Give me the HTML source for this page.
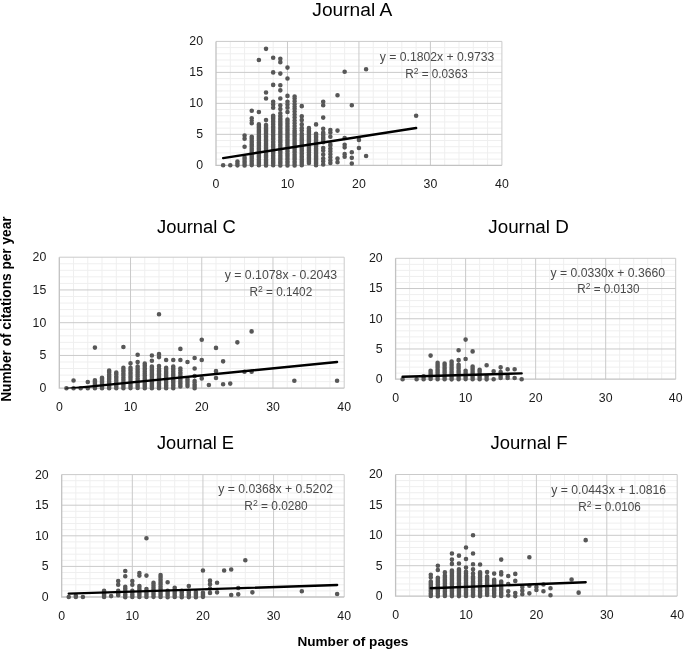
<!DOCTYPE html>
<html><head><meta charset="utf-8"><title>Journals</title>
<style>
html,body{margin:0;padding:0;background:#fff;}
body{width:685px;height:649px;overflow:hidden;font-family:"Liberation Sans",sans-serif;}
svg{display:block;will-change:transform;filter:grayscale(1);}
text{font-family:"Liberation Sans",sans-serif;}
.t{font-size:12.3px;fill:#1a1a1a;}
.h{font-size:18px;fill:#000;}
.e{font-size:12px;fill:#4a4a4a;}
.a{font-size:13.4px;font-weight:bold;fill:#000;}
</style></head><body>
<svg width="685" height="649" viewBox="0 0 685 649">
<rect width="685" height="649" fill="#fff"/>
<g><path d="M216 159.11H501.9M216 152.91H501.9M216 146.72H501.9M216 140.52H501.9M216 128.13H501.9M216 121.94H501.9M216 115.74H501.9M216 109.55H501.9M216 97.16H501.9M216 90.96H501.9M216 84.77H501.9M216 78.57H501.9M216 66.18H501.9M216 59.99H501.9M216 53.79H501.9M216 47.59H501.9M230.29 41.4V165.3M244.59 41.4V165.3M258.88 41.4V165.3M273.18 41.4V165.3M301.77 41.4V165.3M316.06 41.4V165.3M330.36 41.4V165.3M344.65 41.4V165.3M373.25 41.4V165.3M387.54 41.4V165.3M401.83 41.4V165.3M416.13 41.4V165.3M444.72 41.4V165.3M459.01 41.4V165.3M473.31 41.4V165.3M487.6 41.4V165.3" stroke="#efefef" stroke-width="1" fill="none"/><path d="M216 134.33H501.9M216 103.35H501.9M216 72.38H501.9M216 41.4H501.9M287.48 41.4V165.3M358.95 41.4V165.3M430.42 41.4V165.3M501.9 41.4V165.3" stroke="#cacaca" stroke-width="1" fill="none"/><path d="M216 41.4V165.3H501.9" stroke="#c2c2c2" stroke-width="1.3" fill="none"/><path d="M223.15 165.3h0M230.29 165.3h0M237.44 165.37h0M237.44 164.07h0M237.44 162.98h0M237.44 161.87h0M237.44 161.58h0M244.59 165.47h0M244.59 164.13h0M244.59 162.86h0M244.59 161.43h0M244.59 160.03h0M244.59 158.44h0M244.59 157.25h0M244.59 146.72h0M244.59 138.66h0M244.59 135.56h0M251.74 165.12h0M251.74 164.05h0M251.74 163.07h0M251.74 161.85h0M251.74 160.36h0M251.74 158.79h0M251.74 157.53h0M251.74 156.58h0M251.74 155.15h0M251.74 153.96h0M251.74 152.5h0M251.74 151.12h0M251.74 149.86h0M251.74 148.35h0M251.74 146.7h0M251.74 145.36h0M251.74 144.42h0M251.74 143.01h0M251.74 141.7h0M251.74 139.97h0M251.74 138.53h0M251.74 137.34h0M251.74 136.8h0M251.74 123.17h0M251.74 120.08h0M251.74 118.22h0M251.74 110.78h0M258.88 165.27h0M258.88 163.83h0M258.88 162.37h0M258.88 161.07h0M258.88 159.38h0M258.88 157.68h0M258.88 156.6h0M258.88 155.28h0M258.88 153.88h0M258.88 152.77h0M258.88 151.23h0M258.88 149.91h0M258.88 148.46h0M258.88 146.95h0M258.88 145.28h0M258.88 143.92h0M258.88 142.57h0M258.88 140.77h0M258.88 139.89h0M258.88 138.65h0M258.88 137.17h0M258.88 136.15h0M258.88 134.7h0M258.88 133.08h0M258.88 131.78h0M258.88 130.29h0M258.88 129.09h0M258.88 127.58h0M258.88 126.24h0M258.88 125.03h0M258.88 124.41h0M258.88 112.02h0M258.88 59.99h0M266.03 165.46h0M266.03 164.28h0M266.03 163.05h0M266.03 162.06h0M266.03 160.85h0M266.03 159.59h0M266.03 157.8h0M266.03 156.77h0M266.03 155.45h0M266.03 154.11h0M266.03 152.62h0M266.03 151.41h0M266.03 150.17h0M266.03 148.75h0M266.03 147.87h0M266.03 146.07h0M266.03 144.9h0M266.03 143.8h0M266.03 142.05h0M266.03 140.8h0M266.03 139.55h0M266.03 137.9h0M266.03 136.46h0M266.03 135.07h0M266.03 133.43h0M266.03 131.91h0M266.03 130.64h0M266.03 129.22h0M266.03 128.23h0M266.03 126.91h0M266.03 125.18h0M266.03 125.03h0M266.03 120.08h0M266.03 98.52h0M266.03 92.51h0M266.03 48.83h0M273.18 165.14h0M273.18 163.5h0M273.18 162.49h0M273.18 161.28h0M273.18 159.92h0M273.18 158.26h0M273.18 156.98h0M273.18 155.66h0M273.18 153.9h0M273.18 152.45h0M273.18 151.31h0M273.18 149.73h0M273.18 147.97h0M273.18 146.87h0M273.18 145.15h0M273.18 144.18h0M273.18 142.72h0M273.18 141.47h0M273.18 139.62h0M273.18 138.41h0M273.18 137.1h0M273.18 135.69h0M273.18 134.41h0M273.18 132.85h0M273.18 131.14h0M273.18 130.14h0M273.18 128.9h0M273.18 127.48h0M273.18 126.21h0M273.18 124.54h0M273.18 123.12h0M273.18 121.59h0M273.18 119.97h0M273.18 118.58h0M273.18 117.51h0M273.18 116.49h0M273.18 115.74h0M273.18 107.69h0M273.18 104.59h0M273.18 101.74h0M273.18 84.89h0M273.18 72.38h0M273.18 57.75h0M280.33 165.42h0M280.33 163.87h0M280.33 162.62h0M280.33 161.16h0M280.33 159.81h0M280.33 158.36h0M280.33 156.93h0M280.33 155.64h0M280.33 154h0M280.33 152.78h0M280.33 151.46h0M280.33 150.01h0M280.33 148.62h0M280.33 146.93h0M280.33 145.28h0M280.33 144.19h0M280.33 142.48h0M280.33 141.58h0M280.33 140.27h0M280.33 139.04h0M280.33 137.32h0M280.33 135.98h0M280.33 134.31h0M280.33 133.06h0M280.33 131.69h0M280.33 130.01h0M280.33 128.44h0M280.33 127.2h0M280.33 125.74h0M280.33 124.59h0M280.33 123.13h0M280.33 122.09h0M280.33 120.96h0M280.33 119.46h0M280.33 118.3h0M280.33 116.4h0M280.33 115.74h0M280.33 113.26h0M280.33 108.93h0M280.33 105.21h0M280.33 98.52h0M280.33 90.34h0M280.33 85.2h0M280.33 73.61h0M280.33 62.15h0M280.33 58.75h0M287.48 165.45h0M287.48 164.24h0M287.48 162.64h0M287.48 161.42h0M287.48 159.68h0M287.48 158.7h0M287.48 156.95h0M287.48 155.66h0M287.48 154.32h0M287.48 153.22h0M287.48 151.41h0M287.48 150.09h0M287.48 148.54h0M287.48 146.83h0M287.48 145.52h0M287.48 144.03h0M287.48 142.77h0M287.48 141.71h0M287.48 140.55h0M287.48 139.26h0M287.48 137.83h0M287.48 136.68h0M287.48 135.55h0M287.48 134.49h0M287.48 133.21h0M287.48 132.02h0M287.48 130.39h0M287.48 129.29h0M287.48 128.08h0M287.48 126.57h0M287.48 125.1h0M287.48 123.6h0M287.48 121.92h0M287.48 120.6h0M287.48 119.46h0M287.48 112.02h0M287.48 107.69h0M287.48 104.59h0M287.48 101.74h0M287.48 95.92h0M287.48 78.57h0M287.48 67.6h0M294.62 165.47h0M294.62 164.3h0M294.62 162.74h0M294.62 161.62h0M294.62 159.78h0M294.62 158.54h0M294.62 157.32h0M294.62 156.02h0M294.62 154.65h0M294.62 152.77h0M294.62 151.66h0M294.62 150.01h0M294.62 148.84h0M294.62 147.37h0M294.62 146.11h0M294.62 144.82h0M294.62 143.55h0M294.62 142.26h0M294.62 141.06h0M294.62 139.74h0M294.62 138.3h0M294.62 136.86h0M294.62 135.41h0M294.62 133.92h0M294.62 132.85h0M294.62 131.66h0M294.62 130.61h0M294.62 128.6h0M294.62 125.93h0M294.62 123.22h0M294.62 120.46h0M294.62 117.4h0M294.62 114.54h0M294.62 111.49h0M294.62 108.86h0M294.62 106.78h0M294.62 104.33h0M294.62 101.21h0M294.62 98.45h0M294.62 98.39h0M294.62 96.54h0M301.77 165.3h0M301.77 164.1h0M301.77 162.71h0M301.77 161.27h0M301.77 160.11h0M301.77 159.13h0M301.77 157.65h0M301.77 156.45h0M301.77 154.92h0M301.77 153.62h0M301.77 152.05h0M301.77 150.67h0M301.77 149.72h0M301.77 148.27h0M301.77 147.08h0M301.77 146.17h0M301.77 144.71h0M301.77 143.24h0M301.77 142.05h0M301.77 140.73h0M301.77 139.41h0M301.77 138.18h0M301.77 136.94h0M301.77 135.3h0M301.77 133.82h0M301.77 133.71h0M301.77 130.61h0M301.77 128.13h0M301.77 124.41h0M301.77 120.08h0M301.77 116.36h0M301.77 106.14h0M308.92 162.93h0M308.92 161.32h0M308.92 159.94h0M308.92 158.26h0M308.92 157.15h0M308.92 155.76h0M308.92 154.53h0M308.92 152.85h0M308.92 151.93h0M308.92 150.41h0M308.92 149.27h0M308.92 147.92h0M308.92 146.49h0M308.92 144.68h0M308.92 143.49h0M308.92 142.02h0M308.92 140.97h0M308.92 139.43h0M308.92 138.26h0M308.92 136.97h0M308.92 135.91h0M308.92 134.3h0M308.92 132.71h0M308.92 131.38h0M308.92 130.24h0M308.92 128.44h0M308.92 128.13h0M316.06 165.25h0M316.06 163.55h0M316.06 162.24h0M316.06 161.12h0M316.06 159.77h0M316.06 158.51h0M316.06 157.15h0M316.06 156.16h0M316.06 154.95h0M316.06 153.2h0M316.06 152.09h0M316.06 150.87h0M316.06 149.71h0M316.06 148.52h0M316.06 146.83h0M316.06 145.46h0M316.06 144h0M316.06 142.93h0M316.06 141.73h0M316.06 140.63h0M316.06 139.28h0M316.06 137.64h0M316.06 136.45h0M316.06 135.08h0M316.06 133.93h0M316.06 133.71h0M316.06 124.41h0M323.21 142.2h0M323.21 141.22h0M323.21 139.65h0M323.21 138.66h0M323.21 137.39h0M323.21 135.85h0M323.21 134.33h0M323.21 133.54h0M323.21 132.47h0M323.21 164.53h0M323.21 161.28h0M323.21 158.62h0M323.21 154.47h0M323.21 150.53h0M323.21 147.95h0M323.21 128.75h0M323.21 117.6h0M323.21 105.21h0M323.21 101.74h0M330.36 162.97h0M330.36 160.41h0M330.36 157.26h0M330.36 154.34h0M330.36 151.33h0M330.36 148.64h0M330.36 145.46h0M330.36 144.24h0M330.36 136.8h0M330.36 132.47h0M330.36 129.99h0M337.51 162.2h0M337.51 158.49h0M337.51 130.61h0M337.51 95.3h0M344.65 156.63h0M344.65 154.15h0M344.65 147.33h0M344.65 144.86h0M344.65 138.04h0M344.65 71.76h0M351.8 163.44h0M351.8 157.87h0M351.8 152.29h0M351.8 105.21h0M358.95 147.95h0M358.95 139.9h0M366.1 156.01h0M366.1 69.28h0M416.13 115.74h0" stroke="#575757" stroke-width="4.6" stroke-linecap="round" fill="none"/><clipPath id="cA"><rect x="216" y="41.4" width="285.9" height="124.3"/></clipPath><path clip-path="url(#cA)" d="M223.15 158.15L416.13 128.01" stroke="#000" stroke-width="2.4" stroke-linecap="round" fill="none"/><text x="203" y="169.2" text-anchor="end" class="t">0</text><text x="203" y="138.23" text-anchor="end" class="t">5</text><text x="203" y="107.25" text-anchor="end" class="t">10</text><text x="203" y="76.28" text-anchor="end" class="t">15</text><text x="203" y="45.3" text-anchor="end" class="t">20</text><text x="216" y="187.8" text-anchor="middle" class="t">0</text><text x="287.48" y="187.8" text-anchor="middle" class="t">10</text><text x="358.95" y="187.8" text-anchor="middle" class="t">20</text><text x="430.42" y="187.8" text-anchor="middle" class="t">30</text><text x="501.9" y="187.8" text-anchor="middle" class="t">40</text><text x="312.3" y="16.2" textLength="80" lengthAdjust="spacingAndGlyphs" class="h">Journal A</text><text x="379.8" y="61" textLength="114.5" lengthAdjust="spacingAndGlyphs" class="e">y = 0.1802x + 0.9733</text><text x="405.2" y="78" textLength="62.5" lengthAdjust="spacingAndGlyphs" class="e">R<tspan font-size="8.8" dy="-4">2</tspan><tspan dy="4"> = 0.0363</tspan></text></g>
<g><path d="M59.3 381.65H344.2M59.3 375.1H344.2M59.3 368.55H344.2M59.3 362H344.2M59.3 348.9H344.2M59.3 342.35H344.2M59.3 335.8H344.2M59.3 329.25H344.2M59.3 316.15H344.2M59.3 309.6H344.2M59.3 303.05H344.2M59.3 296.5H344.2M59.3 283.4H344.2M59.3 276.85H344.2M59.3 270.3H344.2M59.3 263.75H344.2M73.55 257.2V388.2M87.79 257.2V388.2M102.03 257.2V388.2M116.28 257.2V388.2M144.77 257.2V388.2M159.01 257.2V388.2M173.26 257.2V388.2M187.5 257.2V388.2M216 257.2V388.2M230.24 257.2V388.2M244.49 257.2V388.2M258.73 257.2V388.2M287.22 257.2V388.2M301.46 257.2V388.2M315.71 257.2V388.2M329.95 257.2V388.2" stroke="#efefef" stroke-width="1" fill="none"/><path d="M59.3 355.45H344.2M59.3 322.7H344.2M59.3 289.95H344.2M59.3 257.2H344.2M130.52 257.2V388.2M201.75 257.2V388.2M272.97 257.2V388.2M344.2 257.2V388.2" stroke="#cacaca" stroke-width="1" fill="none"/><path d="M59.3 257.2V388.2H344.2" stroke="#c2c2c2" stroke-width="1.3" fill="none"/><path d="M66.42 388.2h0M73.55 388.2h0M73.55 380.47h0M80.67 388.2h0M87.79 388.2h0M87.79 381.98h0M94.91 388.14h0M94.91 387.02h0M94.91 385.52h0M94.91 384.17h0M94.91 382.82h0M94.91 381.38h0M94.91 380.34h0M94.91 347.59h0M102.03 388.16h0M102.03 387.12h0M102.03 385.44h0M102.03 383.95h0M102.03 382.78h0M102.03 381.2h0M102.03 379.89h0M102.03 378.65h0M102.03 377.72h0M109.16 388.23h0M109.16 386.83h0M109.16 385.32h0M109.16 384.1h0M109.16 382.57h0M109.16 381.26h0M109.16 379.8h0M109.16 378.34h0M109.16 377.07h0M109.16 376.02h0M109.16 374.4h0M109.16 372.62h0M109.16 371.47h0M109.16 370.51h0M116.28 388.14h0M116.28 386.64h0M116.28 385.23h0M116.28 383.55h0M116.28 382.4h0M116.28 380.69h0M116.28 379.09h0M116.28 377.28h0M116.28 376.24h0M116.28 374.32h0M116.28 373.18h0M116.28 372.48h0M123.4 388.25h0M123.4 386.99h0M123.4 385.79h0M123.4 384.17h0M123.4 382.94h0M123.4 381.91h0M123.4 380.1h0M123.4 379h0M123.4 377.45h0M123.4 375.83h0M123.4 374.19h0M123.4 373.21h0M123.4 371.45h0M123.4 370.57h0M123.4 369.03h0M123.4 367.89h0M123.4 346.94h0M130.52 388.1h0M130.52 386.59h0M130.52 385.04h0M130.52 383.8h0M130.52 382.22h0M130.52 381.03h0M130.52 379.08h0M130.52 377.55h0M130.52 376.66h0M130.52 374.95h0M130.52 373.48h0M130.52 372.16h0M130.52 370.53h0M130.52 369.32h0M130.52 367.89h0M130.52 363.31h0M137.65 388.07h0M137.65 386.56h0M137.65 385.33h0M137.65 383.79h0M137.65 382.82h0M137.65 381.21h0M137.65 380.11h0M137.65 378.52h0M137.65 376.58h0M137.65 375.1h0M137.65 373.97h0M137.65 372.29h0M137.65 371.06h0M137.65 369.52h0M137.65 367.93h0M137.65 366.58h0M137.65 362h0M137.65 354.8h0M144.77 388.14h0M144.77 386.84h0M144.77 385.63h0M144.77 384.19h0M144.77 383.12h0M144.77 381.86h0M144.77 380.03h0M144.77 378.76h0M144.77 376.99h0M144.77 375.59h0M144.77 373.99h0M144.77 372.98h0M144.77 371.21h0M144.77 369.85h0M144.77 368.49h0M144.77 366.9h0M144.77 365.42h0M144.77 364.08h0M144.77 363.64h0M151.89 388.29h0M151.89 386.42h0M151.89 385.35h0M151.89 383.99h0M151.89 382.65h0M151.89 381.34h0M151.89 379.68h0M151.89 378.66h0M151.89 377.06h0M151.89 375.94h0M151.89 374.48h0M151.89 373.3h0M151.89 371.96h0M151.89 370.4h0M151.89 369.38h0M151.89 367.73h0M151.89 366.58h0M151.89 360.69h0M151.89 355.45h0M159.01 388.28h0M159.01 386.57h0M159.01 385.07h0M159.01 383.48h0M159.01 381.95h0M159.01 380.54h0M159.01 379.56h0M159.01 377.72h0M159.01 376.1h0M159.01 374.42h0M159.01 373.35h0M159.01 371.63h0M159.01 370.17h0M159.01 368.55h0M159.01 365.93h0M159.01 357.09h0M159.01 354.14h0M159.01 314.19h0M166.14 388.25h0M166.14 386.9h0M166.14 385.43h0M166.14 383.91h0M166.14 382.2h0M166.14 380.73h0M166.14 379.21h0M166.14 377.67h0M166.14 376.32h0M166.14 374.95h0M166.14 373.47h0M166.14 372.24h0M166.14 371.11h0M166.14 369.3h0M166.14 368.28h0M166.14 367.89h0M166.14 360.03h0M173.26 388.19h0M173.26 386.97h0M173.26 385.44h0M173.26 384.04h0M173.26 382.28h0M173.26 381.08h0M173.26 379.95h0M173.26 378.47h0M173.26 377.22h0M173.26 375.73h0M173.26 374.19h0M173.26 372.95h0M173.26 371.26h0M173.26 369.86h0M173.26 368.38h0M173.26 367.12h0M173.26 366.58h0M173.26 360.03h0M180.38 386.38h0M180.38 384.99h0M180.38 383.42h0M180.38 382.2h0M180.38 380.96h0M180.38 379.44h0M180.38 378.26h0M180.38 376.72h0M180.38 375.52h0M180.38 373.84h0M180.38 372.43h0M180.38 370.6h0M180.38 368.73h0M180.38 368.55h0M180.38 360.03h0M180.38 348.9h0M187.5 386.12h0M187.5 384.72h0M187.5 383.09h0M187.5 381.79h0M187.5 380.51h0M187.5 379.4h0M187.5 379.03h0M187.5 362h0M194.63 388.31h0M194.63 386.89h0M194.63 385.74h0M194.63 384.43h0M194.63 382.54h0M194.63 381h0M194.63 376.08h0M194.63 368.55h0M194.63 358.07h0M201.75 378.38h0M201.75 360.03h0M201.75 339.73h0M208.87 384.93h0M216 377.98h0M216 371.17h0M216 347.92h0M223.12 384.27h0M223.12 361.34h0M230.24 383.62h0M237.36 342.35h0M244.49 371.82h0M251.61 371.82h0M251.61 331.41h0M294.34 380.8h0M337.08 380.8h0" stroke="#575757" stroke-width="4.6" stroke-linecap="round" fill="none"/><clipPath id="cC"><rect x="59.3" y="257.2" width="284.9" height="131.4"/></clipPath><path clip-path="url(#cC)" d="M66.42 388.83L337.08 362" stroke="#000" stroke-width="2.4" stroke-linecap="round" fill="none"/><text x="46.3" y="392.1" text-anchor="end" class="t">0</text><text x="46.3" y="359.35" text-anchor="end" class="t">5</text><text x="46.3" y="326.6" text-anchor="end" class="t">10</text><text x="46.3" y="293.85" text-anchor="end" class="t">15</text><text x="46.3" y="261.1" text-anchor="end" class="t">20</text><text x="59.3" y="410.7" text-anchor="middle" class="t">0</text><text x="130.52" y="410.7" text-anchor="middle" class="t">10</text><text x="201.75" y="410.7" text-anchor="middle" class="t">20</text><text x="272.97" y="410.7" text-anchor="middle" class="t">30</text><text x="344.2" y="410.7" text-anchor="middle" class="t">40</text><text x="157" y="233" textLength="78.8" lengthAdjust="spacingAndGlyphs" class="h">Journal C</text><text x="224.7" y="279.1" textLength="112.4" lengthAdjust="spacingAndGlyphs" class="e">y = 0.1078x - 0.2043</text><text x="249.4" y="295.9" textLength="62.8" lengthAdjust="spacingAndGlyphs" class="e">R<tspan font-size="8.8" dy="-4">2</tspan><tspan dy="4"> = 0.1402</tspan></text></g>
<g><path d="M395.6 373.15H675.7M395.6 367.11H675.7M395.6 361.06H675.7M395.6 355.02H675.7M395.6 342.93H675.7M395.6 336.88H675.7M395.6 330.84H675.7M395.6 324.8H675.7M395.6 312.7H675.7M395.6 306.66H675.7M395.6 300.62H675.7M395.6 294.57H675.7M395.6 282.48H675.7M395.6 276.44H675.7M395.6 270.39H675.7M395.6 264.35H675.7M409.61 258.3V379.2M423.61 258.3V379.2M437.62 258.3V379.2M451.62 258.3V379.2M479.63 258.3V379.2M493.64 258.3V379.2M507.64 258.3V379.2M521.64 258.3V379.2M549.65 258.3V379.2M563.66 258.3V379.2M577.66 258.3V379.2M591.67 258.3V379.2M619.68 258.3V379.2M633.69 258.3V379.2M647.69 258.3V379.2M661.7 258.3V379.2" stroke="#efefef" stroke-width="1" fill="none"/><path d="M395.6 348.98H675.7M395.6 318.75H675.7M395.6 288.52H675.7M395.6 258.3H675.7M465.62 258.3V379.2M535.65 258.3V379.2M605.68 258.3V379.2M675.7 258.3V379.2" stroke="#cacaca" stroke-width="1" fill="none"/><path d="M395.6 258.3V379.2H675.7" stroke="#c2c2c2" stroke-width="1.3" fill="none"/><path d="M402.6 379.2h0M416.61 379.2h0M423.61 379.32h0M423.61 377.86h0M423.61 376.32h0M423.61 376.18h0M430.61 379.06h0M430.61 377.81h0M430.61 376.45h0M430.61 374.67h0M430.61 373.33h0M430.61 372.06h0M430.61 370.92h0M430.61 370.74h0M430.61 355.62h0M437.62 379.22h0M437.62 377.95h0M437.62 376.84h0M437.62 375.7h0M437.62 374.14h0M437.62 372.82h0M437.62 371.85h0M437.62 370.5h0M437.62 369.24h0M437.62 367.84h0M437.62 366.47h0M437.62 365.63h0M437.62 364.34h0M437.62 363.04h0M437.62 362.88h0M444.62 379.17h0M444.62 377.98h0M444.62 376.84h0M444.62 375.24h0M444.62 374.15h0M444.62 372.47h0M444.62 371.16h0M444.62 370.09h0M444.62 368.49h0M444.62 367.21h0M444.62 365.8h0M444.62 364.6h0M444.62 363.48h0M451.62 379.37h0M451.62 377.89h0M451.62 376.82h0M451.62 375.36h0M451.62 373.67h0M451.62 372.8h0M451.62 371.3h0M451.62 369.78h0M451.62 368.81h0M451.62 367.68h0M451.62 365.88h0M451.62 364.71h0M451.62 362.93h0M451.62 361.62h0M451.62 361.67h0M458.62 379.3h0M458.62 378.18h0M458.62 377.06h0M458.62 375.46h0M458.62 373.94h0M458.62 372.79h0M458.62 371.41h0M458.62 370.26h0M458.62 368.6h0M458.62 367.45h0M458.62 366.61h0M458.62 365.24h0M458.62 364.69h0M458.62 360.16h0M458.62 350.18h0M465.62 379.11h0M465.62 377.82h0M465.62 376.82h0M465.62 375.13h0M465.62 373.68h0M465.62 372.17h0M465.62 370.74h0M465.62 358.95h0M465.62 339.61h0M472.63 379.13h0M472.63 377.7h0M472.63 376.21h0M472.63 375.11h0M472.63 373.76h0M472.63 372.19h0M472.63 371.12h0M472.63 369.48h0M472.63 368.45h0M472.63 367.13h0M472.63 366.51h0M472.63 351.39h0M479.63 379.13h0M479.63 377.9h0M479.63 376.42h0M479.63 374.75h0M479.63 373.49h0M479.63 371.65h0M479.63 370.38h0M479.63 369.83h0M486.63 379.34h0M486.63 377.99h0M486.63 376.57h0M486.63 376.18h0M486.63 365.3h0M493.64 379.2h0M493.64 371.34h0M500.64 377.94h0M500.64 376.92h0M500.64 375.56h0M500.64 374.55h0M500.64 373.37h0M500.64 372.07h0M500.64 371.95h0M500.64 367.35h0M507.64 377.99h0M507.64 376.18h0M507.64 369.23h0M514.64 377.99h0M514.64 369.23h0M521.64 379.2h0" stroke="#575757" stroke-width="4.6" stroke-linecap="round" fill="none"/><clipPath id="cD"><rect x="395.6" y="258.3" width="280.1" height="121.3"/></clipPath><path clip-path="url(#cD)" d="M402.6 376.79L521.64 373.4" stroke="#000" stroke-width="2.4" stroke-linecap="round" fill="none"/><text x="382.6" y="383.1" text-anchor="end" class="t">0</text><text x="382.6" y="352.88" text-anchor="end" class="t">5</text><text x="382.6" y="322.65" text-anchor="end" class="t">10</text><text x="382.6" y="292.42" text-anchor="end" class="t">15</text><text x="382.6" y="262.2" text-anchor="end" class="t">20</text><text x="395.6" y="401.7" text-anchor="middle" class="t">0</text><text x="465.62" y="401.7" text-anchor="middle" class="t">10</text><text x="535.65" y="401.7" text-anchor="middle" class="t">20</text><text x="605.68" y="401.7" text-anchor="middle" class="t">30</text><text x="675.7" y="401.7" text-anchor="middle" class="t">40</text><text x="488.3" y="232.7" textLength="80.5" lengthAdjust="spacingAndGlyphs" class="h">Journal D</text><text x="550.6" y="276.5" textLength="114.5" lengthAdjust="spacingAndGlyphs" class="e">y = 0.0330x + 0.3660</text><text x="577.2" y="293.2" textLength="62.3" lengthAdjust="spacingAndGlyphs" class="e">R<tspan font-size="8.8" dy="-4">2</tspan><tspan dy="4"> = 0.0130</tspan></text></g>
<g><path d="M61.7 590.88H344.2M61.7 584.76H344.2M61.7 578.64H344.2M61.7 572.52H344.2M61.7 560.28H344.2M61.7 554.16H344.2M61.7 548.04H344.2M61.7 541.92H344.2M61.7 529.68H344.2M61.7 523.56H344.2M61.7 517.44H344.2M61.7 511.32H344.2M61.7 499.08H344.2M61.7 492.96H344.2M61.7 486.84H344.2M61.7 480.72H344.2M75.83 474.6V597M89.95 474.6V597M104.08 474.6V597M118.2 474.6V597M146.45 474.6V597M160.57 474.6V597M174.7 474.6V597M188.82 474.6V597M217.07 474.6V597M231.2 474.6V597M245.32 474.6V597M259.45 474.6V597M287.7 474.6V597M301.82 474.6V597M315.95 474.6V597M330.07 474.6V597" stroke="#efefef" stroke-width="1" fill="none"/><path d="M61.7 566.4H344.2M61.7 535.8H344.2M61.7 505.2H344.2M61.7 474.6H344.2M132.32 474.6V597M202.95 474.6V597M273.57 474.6V597M344.2 474.6V597" stroke="#cacaca" stroke-width="1" fill="none"/><path d="M61.7 474.6V597H344.2" stroke="#c2c2c2" stroke-width="1.3" fill="none"/><path d="M68.76 597h0M75.83 597h0M75.83 595.78h0M82.89 597h0M104.08 597.05h0M104.08 595.58h0M104.08 594.27h0M104.08 593.16h0M104.08 591.72h0M104.08 590.88h0M111.14 596.08h0M118.2 595.22h0M118.2 593.69h0M118.2 592.38h0M118.2 591.27h0M118.2 590.88h0M118.2 584.76h0M118.2 581.09h0M125.26 597.18h0M125.26 595.72h0M125.26 594.39h0M125.26 592.87h0M125.26 591.48h0M125.26 590.08h0M125.26 588.58h0M125.26 586.99h0M125.26 586.9h0M125.26 576.19h0M125.26 570.99h0M132.32 596.93h0M132.32 595.8h0M132.32 594.39h0M132.32 592.66h0M132.32 591.19h0M132.32 590.88h0M132.32 584.76h0M132.32 581.09h0M139.39 597.04h0M139.39 595.57h0M139.39 594.44h0M139.39 593.6h0M139.39 592.13h0M139.39 590.97h0M139.39 589.47h0M139.39 588.04h0M139.39 586.48h0M139.39 585.98h0M139.39 575.58h0M139.39 573.13h0M146.45 597.06h0M146.45 595.87h0M146.45 594.16h0M146.45 592.86h0M146.45 591.33h0M146.45 590.17h0M146.45 589.04h0M146.45 575.58h0M146.45 538.25h0M153.51 596.86h0M153.51 595.91h0M153.51 594.48h0M153.51 593.15h0M153.51 591.96h0M153.51 590.6h0M153.51 589.51h0M153.51 588.09h0M153.51 586.94h0M153.51 585.35h0M153.51 583.74h0M153.51 582.92h0M160.57 596.91h0M160.57 595.8h0M160.57 594.41h0M160.57 593.12h0M160.57 592.02h0M160.57 590.41h0M160.57 589.09h0M160.57 587.94h0M160.57 586.44h0M160.57 584.78h0M160.57 583.59h0M160.57 582.17h0M160.57 580.86h0M160.57 579.29h0M160.57 577.81h0M160.57 576.44h0M160.57 575.24h0M160.57 574.97h0M167.64 597.15h0M167.64 595.59h0M167.64 594.19h0M167.64 593.05h0M167.64 591.66h0M167.64 590.88h0M167.64 582.31h0M174.7 596.94h0M174.7 595.54h0M174.7 593.89h0M174.7 592.71h0M174.7 591.27h0M174.7 589.86h0M174.7 588.07h0M174.7 587.82h0M181.76 597.15h0M181.76 595.6h0M181.76 594.15h0M181.76 592.61h0M181.76 591.4h0M181.76 590.88h0M188.82 597.11h0M188.82 595.59h0M188.82 594.21h0M188.82 592.51h0M188.82 591.43h0M188.82 590.88h0M188.82 585.98h0M195.89 597.18h0M195.89 595.73h0M195.89 594.3h0M195.89 593.13h0M195.89 592.1h0M202.95 596.84h0M202.95 595.74h0M202.95 594.17h0M202.95 593.08h0M202.95 592.72h0M202.95 570.44h0M210.01 592.9h0M210.01 588.55h0M210.01 584.15h0M210.01 580.66h0M217.07 592.35h0M217.07 582.68h0M224.14 570.44h0M231.2 594.98h0M231.2 569.46h0M238.26 594.37h0M238.26 587.94h0M245.32 560.28h0M252.39 592.35h0M301.82 591.19h0M337.14 594.06h0" stroke="#575757" stroke-width="4.6" stroke-linecap="round" fill="none"/><clipPath id="cE"><rect x="61.7" y="474.6" width="282.5" height="122.8"/></clipPath><path clip-path="url(#cE)" d="M68.76 593.59L337.14 585.03" stroke="#000" stroke-width="2.4" stroke-linecap="round" fill="none"/><text x="48.7" y="600.9" text-anchor="end" class="t">0</text><text x="48.7" y="570.3" text-anchor="end" class="t">5</text><text x="48.7" y="539.7" text-anchor="end" class="t">10</text><text x="48.7" y="509.1" text-anchor="end" class="t">15</text><text x="48.7" y="478.5" text-anchor="end" class="t">20</text><text x="61.7" y="619.5" text-anchor="middle" class="t">0</text><text x="132.32" y="619.5" text-anchor="middle" class="t">10</text><text x="202.95" y="619.5" text-anchor="middle" class="t">20</text><text x="273.57" y="619.5" text-anchor="middle" class="t">30</text><text x="344.2" y="619.5" text-anchor="middle" class="t">40</text><text x="157" y="449" textLength="77" lengthAdjust="spacingAndGlyphs" class="h">Journal E</text><text x="218.2" y="493.1" textLength="114.8" lengthAdjust="spacingAndGlyphs" class="e">y = 0.0368x + 0.5202</text><text x="244.3" y="510" textLength="63.4" lengthAdjust="spacingAndGlyphs" class="e">R<tspan font-size="8.8" dy="-4">2</tspan><tspan dy="4"> = 0.0280</tspan></text></g>
<g><path d="M395.6 590.02H677.2M395.6 583.94H677.2M395.6 577.86H677.2M395.6 571.78H677.2M395.6 559.62H677.2M395.6 553.54H677.2M395.6 547.46H677.2M395.6 541.38H677.2M395.6 529.22H677.2M395.6 523.14H677.2M395.6 517.06H677.2M395.6 510.98H677.2M395.6 498.82H677.2M395.6 492.74H677.2M395.6 486.66H677.2M395.6 480.58H677.2M409.68 474.5V596.1M423.76 474.5V596.1M437.84 474.5V596.1M451.92 474.5V596.1M480.08 474.5V596.1M494.16 474.5V596.1M508.24 474.5V596.1M522.32 474.5V596.1M550.48 474.5V596.1M564.56 474.5V596.1M578.64 474.5V596.1M592.72 474.5V596.1M620.88 474.5V596.1M634.96 474.5V596.1M649.04 474.5V596.1M663.12 474.5V596.1" stroke="#efefef" stroke-width="1" fill="none"/><path d="M395.6 565.7H677.2M395.6 535.3H677.2M395.6 504.9H677.2M395.6 474.5H677.2M466 474.5V596.1M536.4 474.5V596.1M606.8 474.5V596.1M677.2 474.5V596.1" stroke="#cacaca" stroke-width="1" fill="none"/><path d="M395.6 474.5V596.1H677.2" stroke="#c2c2c2" stroke-width="1.3" fill="none"/><path d="M430.8 595.99h0M430.8 594.7h0M430.8 593.42h0M430.8 591.79h0M430.8 590.21h0M430.8 588.83h0M430.8 587.57h0M430.8 586.33h0M430.8 585.06h0M430.8 584.02h0M430.8 582.8h0M430.8 581.78h0M430.8 581.51h0M430.8 577.25h0M430.8 574.82h0M437.84 596.18h0M437.84 594.97h0M437.84 593.6h0M437.84 592.1h0M437.84 590.74h0M437.84 589.53h0M437.84 587.71h0M437.84 586.5h0M437.84 584.8h0M437.84 583.95h0M437.84 582.14h0M437.84 581.14h0M437.84 579.94h0M437.84 578.42h0M437.84 577.86h0M437.84 569.96h0M437.84 565.7h0M444.88 595.95h0M444.88 594.73h0M444.88 593.02h0M444.88 591.51h0M444.88 589.92h0M444.88 588.61h0M444.88 587.05h0M444.88 585.62h0M444.88 584.03h0M444.88 582.94h0M444.88 581.7h0M444.88 580.61h0M444.88 579.45h0M444.88 578.1h0M444.88 576.76h0M444.88 575.43h0M444.88 572.39h0M451.92 596.11h0M451.92 594.67h0M451.92 593.25h0M451.92 591.75h0M451.92 590.75h0M451.92 589.57h0M451.92 587.93h0M451.92 586.49h0M451.92 584.83h0M451.92 583.36h0M451.92 582.34h0M451.92 581.07h0M451.92 579.53h0M451.92 578.15h0M451.92 576.78h0M451.92 575.4h0M451.92 573.89h0M451.92 572.66h0M451.92 571.49h0M451.92 570.56h0M451.92 563.88h0M451.92 559.62h0M451.92 553.54h0M458.96 596.1h0M458.96 594.45h0M458.96 593.08h0M458.96 591.85h0M458.96 590.34h0M458.96 589.07h0M458.96 587.3h0M458.96 586.25h0M458.96 585.03h0M458.96 583.53h0M458.96 582.23h0M458.96 580.64h0M458.96 579.35h0M458.96 577.92h0M458.96 576.53h0M458.96 575.36h0M458.96 574.01h0M458.96 573.09h0M458.96 571.79h0M458.96 570.27h0M458.96 569.35h0M458.96 563.57h0M458.96 555.67h0M466 595.98h0M466 594.59h0M466 593.47h0M466 592.17h0M466 590.75h0M466 589.4h0M466 588.03h0M466 586.61h0M466 585.2h0M466 584.22h0M466 582.73h0M466 581.02h0M466 579.9h0M466 578.69h0M466 577.69h0M466 576.66h0M466 575.18h0M466 573.61h0M466 572.06h0M466 571.78h0M466 567.52h0M466 559.01h0M466 547.46h0M473.04 596.02h0M473.04 594.82h0M473.04 593.89h0M473.04 592.17h0M473.04 590.63h0M473.04 589.56h0M473.04 588.17h0M473.04 586.67h0M473.04 584.92h0M473.04 584.1h0M473.04 582.39h0M473.04 581.46h0M473.04 580.05h0M473.04 578.41h0M473.04 577.35h0M473.04 576.64h0M473.04 573.6h0M473.04 569.35h0M473.04 564.18h0M473.04 553.54h0M473.04 535.3h0M480.08 596.12h0M480.08 594.8h0M480.08 593.22h0M480.08 591.71h0M480.08 590.5h0M480.08 588.81h0M480.08 587.46h0M480.08 586.42h0M480.08 584.59h0M480.08 583.21h0M480.08 581.58h0M480.08 580.21h0M480.08 579.03h0M480.08 577.51h0M480.08 575.99h0M480.08 574.36h0M480.08 573.44h0M480.08 572.39h0M480.08 564.48h0M487.12 594.91h0M487.12 593.38h0M487.12 592.12h0M487.12 590.33h0M487.12 588.88h0M487.12 587.56h0M487.12 586.12h0M487.12 584.68h0M487.12 583.49h0M487.12 582.12h0M487.12 580.39h0M487.12 579.31h0M487.12 577.93h0M487.12 576.82h0M487.12 576.64h0M487.12 572.08h0M494.16 595.99h0M494.16 594.93h0M494.16 593.18h0M494.16 592.06h0M494.16 590.4h0M494.16 589.2h0M494.16 587.92h0M494.16 586.75h0M494.16 585.23h0M494.16 583.85h0M494.16 582.59h0M494.16 581.19h0M494.16 580.25h0M494.16 579.68h0M494.16 573.6h0M501.2 596h0M501.2 594.91h0M501.2 593.68h0M501.2 592.78h0M501.2 590.88h0M501.2 589.66h0M501.2 588.37h0M501.2 587.01h0M501.2 585.58h0M501.2 584.2h0M501.2 583.12h0M501.2 582h0M501.2 581.51h0M501.2 574.52h0M501.2 572.39h0M501.2 559.62h0M508.24 595.49h0M508.24 591.24h0M508.24 583.94h0M508.24 576.04h0M515.28 596.1h0M515.28 593.06h0M515.28 580.9h0M515.28 573.91h0M522.32 594.28h0M522.32 590.63h0M522.32 586.98h0M529.36 593.36h0M529.36 585.76h0M529.36 557.19h0M536.4 590.02h0M536.4 586.98h0M543.44 591.24h0M543.44 584.55h0M550.48 595.31h0M550.48 588.2h0M571.6 579.44h0M578.64 592.63h0M585.68 540.16h0" stroke="#575757" stroke-width="4.6" stroke-linecap="round" fill="none"/><clipPath id="cF"><rect x="395.6" y="474.5" width="281.6" height="122"/></clipPath><path clip-path="url(#cF)" d="M430.8 588.18L585.68 582.25" stroke="#000" stroke-width="2.4" stroke-linecap="round" fill="none"/><text x="382.6" y="600" text-anchor="end" class="t">0</text><text x="382.6" y="569.6" text-anchor="end" class="t">5</text><text x="382.6" y="539.2" text-anchor="end" class="t">10</text><text x="382.6" y="508.8" text-anchor="end" class="t">15</text><text x="382.6" y="478.4" text-anchor="end" class="t">20</text><text x="395.6" y="618.6" text-anchor="middle" class="t">0</text><text x="466" y="618.6" text-anchor="middle" class="t">10</text><text x="536.4" y="618.6" text-anchor="middle" class="t">20</text><text x="606.8" y="618.6" text-anchor="middle" class="t">30</text><text x="677.2" y="618.6" text-anchor="middle" class="t">40</text><text x="490.5" y="449" textLength="77.1" lengthAdjust="spacingAndGlyphs" class="h">Journal F</text><text x="551.2" y="494.1" textLength="114.9" lengthAdjust="spacingAndGlyphs" class="e">y = 0.0443x + 1.0816</text><text x="578.2" y="510.9" textLength="62.6" lengthAdjust="spacingAndGlyphs" class="e">R<tspan font-size="8.8" dy="-4">2</tspan><tspan dy="4"> = 0.0106</tspan></text></g>
<text transform="translate(10.8 401.8) rotate(-90)" textLength="185.4" lengthAdjust="spacingAndGlyphs" class="a" style="font-size:15.2px">Number of citations per year</text>
<text x="297.4" y="645.8" textLength="111" lengthAdjust="spacingAndGlyphs" class="a">Number of pages</text>
</svg>
</body></html>
